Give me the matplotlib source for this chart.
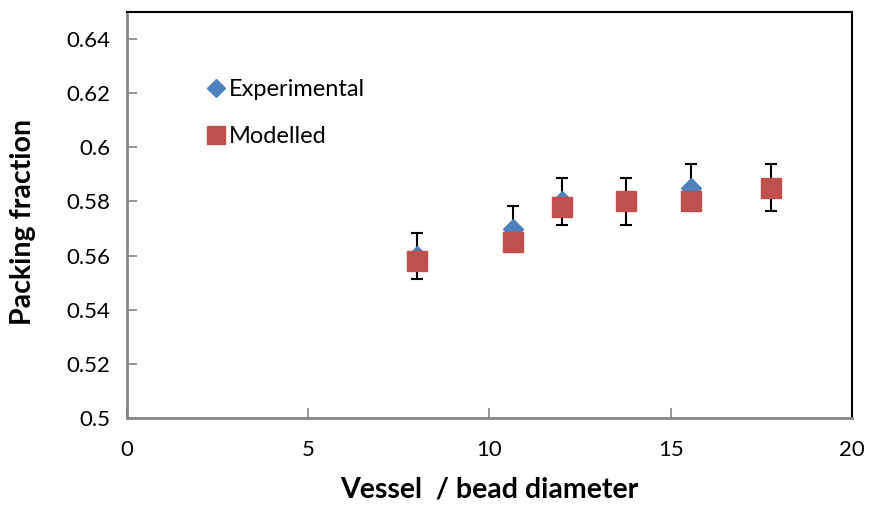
import numpy as np
import matplotlib
matplotlib.use("Agg")
from matplotlib import pyplot as plt

# data
ratio = [8.0, 10.66, 12.0, 13.78, 15.55, 17.77]
experimental = [0.560, 0.570, 0.580, 0.580, 0.585, 0.585]
exp_error = [0.0085, 0.0085, 0.0087, 0.0087, 0.0087, 0.0087]
modelled = [0.558, 0.565, 0.578, 0.580, 0.580, 0.585]

xticks = [0, 5, 10, 15, 20]
yticks = [0.5, 0.52, 0.54, 0.56, 0.58, 0.6, 0.62, 0.64]
yticklabels = ['0.5', '0.52', '0.54', '0.56', '0.58', '0.6', '0.62', '0.64']

plt.rcParams['font.family'] = ['Lato', 'DejaVu Sans']

fig = plt.figure(figsize=(8.69, 5.14), dpi=100, facecolor='w')
ax = fig.add_axes([0.1461, 0.1868, 0.8343, 0.7899])

blue = '#4F81BD'
red = '#C0504D'

ax.errorbar(ratio, experimental, yerr=exp_error, fmt='none', ecolor='black',
            elinewidth=1.5, capsize=4, capthick=1.5, zorder=1)
ax.plot(ratio, experimental, linestyle='none', marker='D', markersize=10,
        color=blue, label='Experimental', zorder=2)
ax.plot(ratio, modelled, linestyle='none', marker='s', markersize=14.5,
        color=red, label='Modelled', zorder=3)

ax.set_xlim(0, 20)
ax.set_ylim(0.5, 0.65)
ax.set_xticks(xticks)
ax.set_yticks(yticks)
ax.set_yticklabels(yticklabels)
ax.tick_params(direction='in', length=7, width=1.2, color='#868686',
               labelsize=16, pad=12)
ax.tick_params(axis='x', pad=16)

for side in ['left', 'bottom']:
    ax.spines[side].set_color('#868686')
    ax.spines[side].set_linewidth(2)
for side in ['top', 'right']:
    ax.spines[side].set_color('black')
    ax.spines[side].set_linewidth(1.5)

ax.set_xlabel('Vessel  / bead diameter', fontsize=20.5, fontweight='bold', labelpad=12)
ax.set_ylabel('Packing fraction', fontsize=20.5, fontweight='bold')
ax.yaxis.set_label_coords(-0.126, 0.483)

ax.legend(loc='upper left', bbox_to_anchor=(0.224, 0.869), bbox_transform=fig.transFigure,
          frameon=False, fontsize=17, handlelength=0.8, handletextpad=0.15,
          labelspacing=1.1, borderpad=0, markerscale=0.9)

plt.savefig('out.png', dpi=100)
